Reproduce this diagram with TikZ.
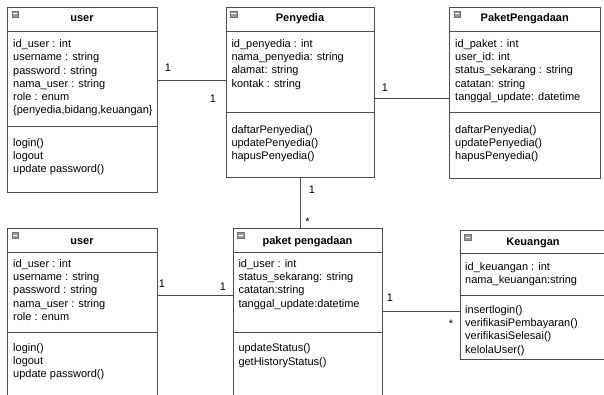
\documentclass[tikz,border=0pt]{standalone}
\usepackage{fontspec}
\setmainfont{Liberation Sans}
\begin{document}
\begin{tikzpicture}[x=1pt,y=-1pt,
  box/.style={draw=black!70, line width=1pt, rectangle, anchor=north west, inner sep=0pt, fill=white},
  sepline/.style={draw=black!70, line width=1pt},
  conn/.style={draw=black!70, line width=1pt},
  txt/.style={anchor=north west, align=left, inner sep=0pt, font=\fontsize{11}{13.3}\selectfont},
  hdr/.style={anchor=base, inner sep=0pt, font=\bfseries\fontsize{11}{13}\selectfont},
  mult/.style={inner sep=0pt, font=\fontsize{11}{13}\selectfont},
  icon/.style={draw=black!55, line width=0.4pt, fill=black!40}
]
\clip (0,0) rectangle (604,395);
\fill[white] (0,0) rectangle (604,395);

\newcommand{\umlicon}[2]{%
  \filldraw[icon] (#1+4.5,#2+4.2) rectangle ++(6.5,6);
  \draw[white, line width=0.8pt] (#1+5.5,#2+7.2) -- ++(4.5,0);
}

% ---------- top user ----------
\node[box, minimum width=149.4pt, minimum height=185pt] (u1) at (7.3,6.7) {};
\draw[sepline] (u1.west |- 0,32) -- (u1.east |- 0,32);
\draw[sepline] (u1.west |- 0,126.7) -- (u1.east |- 0,126.7);
\umlicon{7.3}{6.7}
\node[hdr] (u1h) at (82,22) {user};
\node[txt] (u1a) at (13,37.9) {\strut id\_user : int\\username : string\\password : string\\nama\_user : string\\role : enum\\\{penyedia,bidang,keuangan\}};
\node[txt] (u1m) at (13,136.7) {\strut login()\\logout\\update password()};

% ---------- Penyedia ----------
\node[box, minimum width=148.6pt, minimum height=170.6pt] (pe) at (225.7,6.7) {};
\draw[sepline] (pe.west |- 0,31.7) -- (pe.east |- 0,31.7);
\draw[sepline] (pe.west |- 0,112.3) -- (pe.east |- 0,112.3);
\umlicon{225.7}{6.7}
\node[hdr] (peh) at (300,22) {Penyedia};
\node[txt] (pea) at (231.3,37.7) {\strut id\_penyedia : int\\nama\_penyedia: string\\alamat: string\\kontak : string};
\node[txt] (pem) at (231.3,123.7) {\strut daftarPenyedia()\\updatePenyedia()\\hapusPenyedia()};

% ---------- PaketPengadaan ----------
\node[box, minimum width=150.7pt, minimum height=171.6pt] (pp) at (449.3,6.7) {};
\draw[sepline] (pp.west |- 0,32) -- (pp.east |- 0,32);
\draw[sepline] (pp.west |- 0,112.7) -- (pp.east |- 0,112.7);
\umlicon{449.3}{6.7}
\node[hdr] (pph) at (524.7,22) {PaketPengadaan};
\node[txt] (ppa) at (455,37.7) {\strut id\_paket : int\\user\_id: int\\status\_sekarang : string\\catatan: string\\tanggal\_update: datetime};
\node[txt] (ppm) at (455,123.7) {\strut daftarPenyedia()\\updatePenyedia()\\hapusPenyedia()};

% ---------- bottom user ----------
\node[box, minimum width=149.4pt, minimum height=180pt] (u2) at (7.3,228.3) {};
\draw[sepline] (u2.west |- 0,252.3) -- (u2.east |- 0,252.3);
\draw[sepline] (u2.west |- 0,332) -- (u2.east |- 0,332);
\umlicon{7.3}{228.3}
\node[hdr] (u2h) at (82,244) {user};
\node[txt] (u2a) at (13,257.7) {\strut id\_user : int\\username : string\\password : string\\nama\_user : string\\role : enum};
\node[txt] (u2m) at (13,341.7) {\strut login()\\logout\\update password()};

% ---------- paket pengadaan ----------
\node[box, minimum width=149.6pt, minimum height=180pt] (pk) at (232.7,228.3) {};
\draw[sepline] (pk.west |- 0,252.3) -- (pk.east |- 0,252.3);
\draw[sepline] (pk.west |- 0,332) -- (pk.east |- 0,332);
\umlicon{232.7}{228.3}
\node[hdr] (pkh) at (307.5,244.3) {paket pengadaan};
\node[txt] (pka) at (238.3,257.7) {\strut id\_user : int\\status\_sekarang: string\\catatan:string\\tanggal\_update:datetime};
\node[txt] (pkm) at (238.3,342.2) {\strut updateStatus()\\getHistoryStatus()};

% ---------- Keuangan ----------
\node[box, minimum width=160pt, minimum height=129.3pt] (ke) at (460,230) {};
\draw[sepline] (ke.west |- 0,253.3) -- (ke.east |- 0,253.3);
\draw[sepline] (ke.west |- 0,295) -- (ke.east |- 0,295);
\umlicon{460}{230}
\node[hdr] (keh) at (533,245) {Keuangan};
\node[txt] (kea) at (465,260.7) {\strut id\_keuangan : int\\nama\_keuangan:string};
\node[txt] (kem) at (465,303.7) {\strut insertlogin()\\verifikasiPembayaran()\\verifikasiSelesai()\\kelolaUser()};

% ---------- connectors ----------
\draw[conn] (u1.east |- 0,81) -- (pe.west |- 0,81);
\draw[conn] (pe.east |- 0,98.3) -- (pp.west |- 0,98.3);
\draw[conn] (pe.south -| 300,0) -- (pk.north -| 300,0);
\draw[conn] (u2.east |- 0,295) -- (pk.west |- 0,295);
\draw[conn] (pk.east |- 0,311.7) -- (ke.west |- 0,311.7);

% ---------- multiplicities ----------
\node[mult] (m1) at (168,68) {1};
\node[mult] (m2) at (213,98.5) {1};
\node[mult] (m3) at (385,88) {1};
\node[mult] (m4) at (312,190) {1};
\node[mult] (m5) at (307.5,222) {*};
\node[mult] (m6) at (162,283.5) {1};
\node[mult] (m7) at (223,286.5) {1};
\node[mult] (m8) at (390,298) {1};
\node[mult] (m9) at (451,323.5) {*};
\end{tikzpicture}
\end{document}
